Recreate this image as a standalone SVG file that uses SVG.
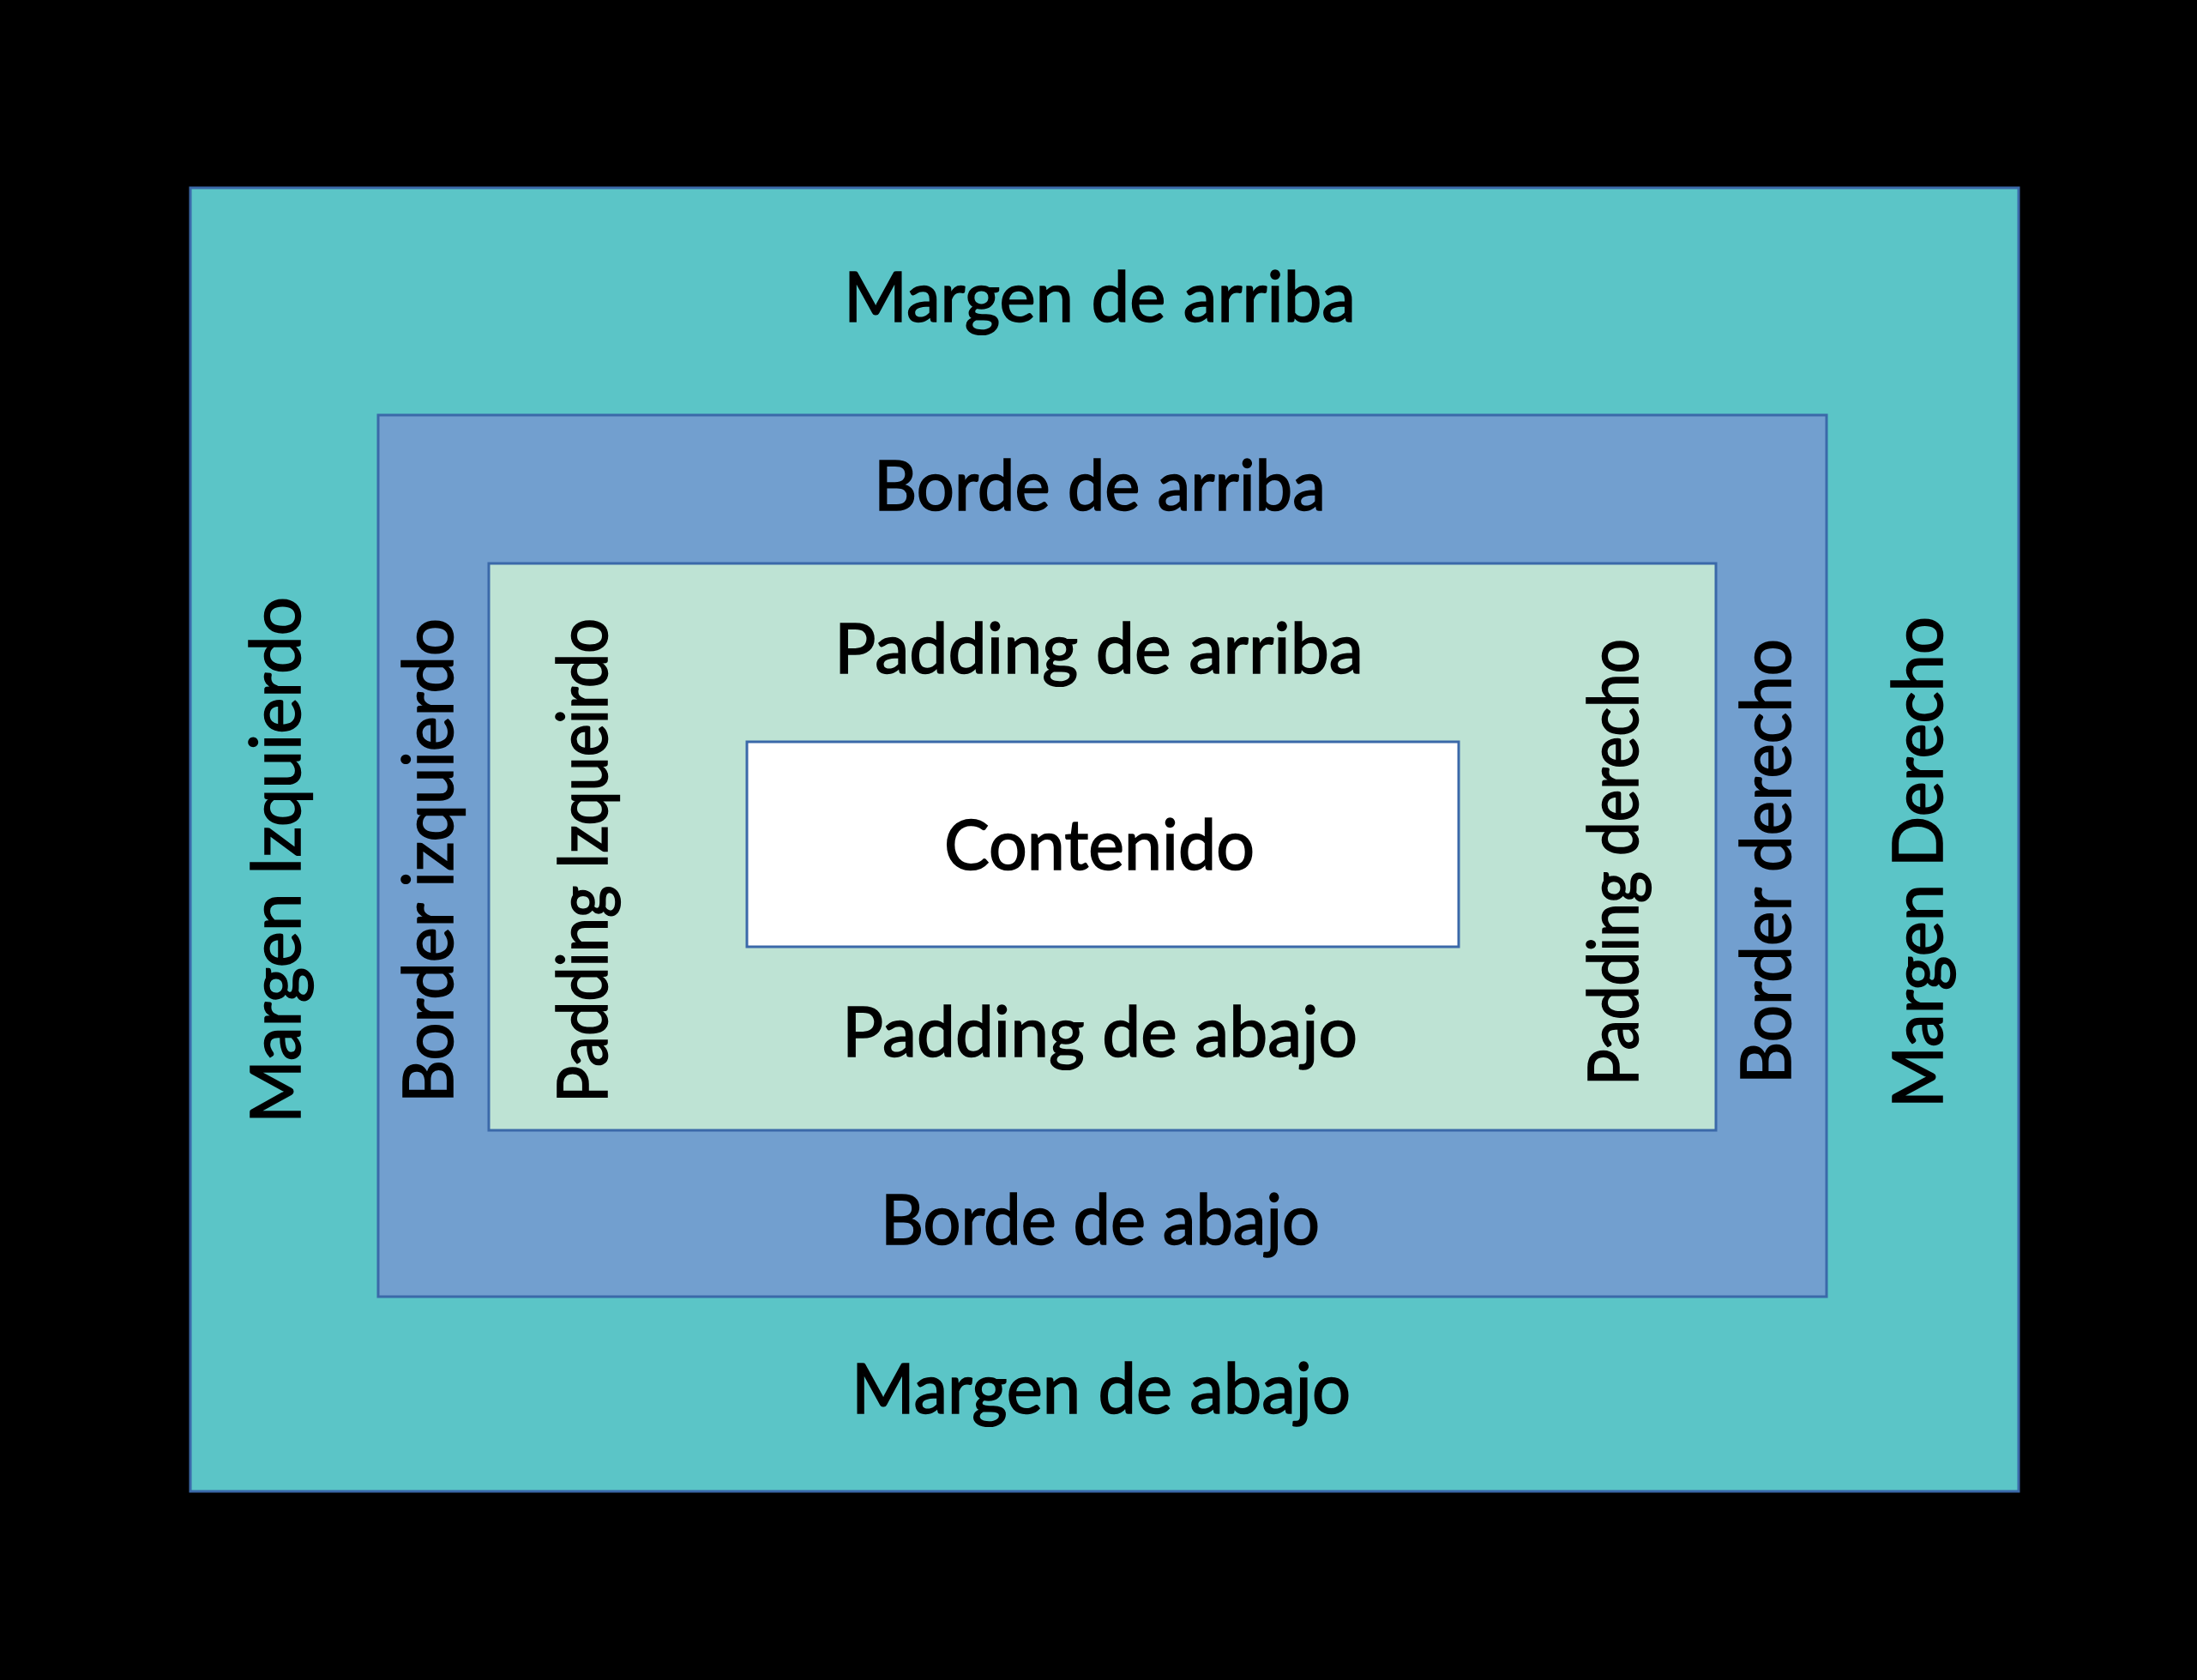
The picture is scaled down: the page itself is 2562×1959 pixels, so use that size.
<svg xmlns="http://www.w3.org/2000/svg" width="2562" height="1959" viewBox="0 0 2562 1959">
<style>
.box{stroke:#3B69A9;stroke-width:3}
.lbl{font-family:Lato,"Open Sans","Liberation Sans",sans-serif;font-size:82px;fill:#000;stroke:#000;stroke-width:1.6}
</style>
<rect x="0" y="0" width="2562" height="1959" fill="#000"/>
<g id="margin">
<rect class="box" x="222" y="219" width="2132" height="1520" fill="#5BC5C7"/>
<text class="lbl" x="984" y="375" textLength="597" lengthAdjust="spacingAndGlyphs">Margen de arriba</text>
<text class="lbl" x="993" y="1648" textLength="582" lengthAdjust="spacingAndGlyphs">Margen de abajo</text>
<text class="lbl" transform="translate(350,1310) rotate(-90)" textLength="614" lengthAdjust="spacingAndGlyphs">Margen Izquierdo</text>
<text class="lbl" transform="translate(2265,1292) rotate(-90)" textLength="573" lengthAdjust="spacingAndGlyphs">Margen Derecho</text>
</g>
<g id="border">
<rect class="box" x="441" y="484" width="1689" height="1028" fill="#729FCF"/>
<text class="lbl" x="1019" y="595" textLength="527" lengthAdjust="spacingAndGlyphs">Borde de arriba</text>
<text class="lbl" x="1027" y="1451" textLength="512" lengthAdjust="spacingAndGlyphs">Borde de abajo</text>
<text class="lbl" transform="translate(528,1286) rotate(-90)" textLength="565" lengthAdjust="spacingAndGlyphs">Border izquierdo</text>
<text class="lbl" transform="translate(2088,1264) rotate(-90)" textLength="519" lengthAdjust="spacingAndGlyphs">Border derecho</text>
</g>
<g id="padding">
<rect class="box" x="570" y="657" width="1431" height="661" fill="#BEE3D4"/>
<text class="lbl" x="973" y="785" textLength="617" lengthAdjust="spacingAndGlyphs">Padding de arriba</text>
<text class="lbl" x="982" y="1232" textLength="601" lengthAdjust="spacingAndGlyphs">Padding de abajo</text>
<text class="lbl" transform="translate(708,1286) rotate(-90)" textLength="565" lengthAdjust="spacingAndGlyphs">Padding Izqueirdo</text>
<text class="lbl" transform="translate(1910,1266) rotate(-90)" textLength="521" lengthAdjust="spacingAndGlyphs">Padding derecho</text>
</g>
<g id="content">
<rect class="box" x="871" y="865" width="830" height="239" fill="#FFFFFF"/>
<text class="lbl" x="1101" y="1014" textLength="362" lengthAdjust="spacingAndGlyphs">Contenido</text>
</g>
<g id="connectors"></g>
</svg>
